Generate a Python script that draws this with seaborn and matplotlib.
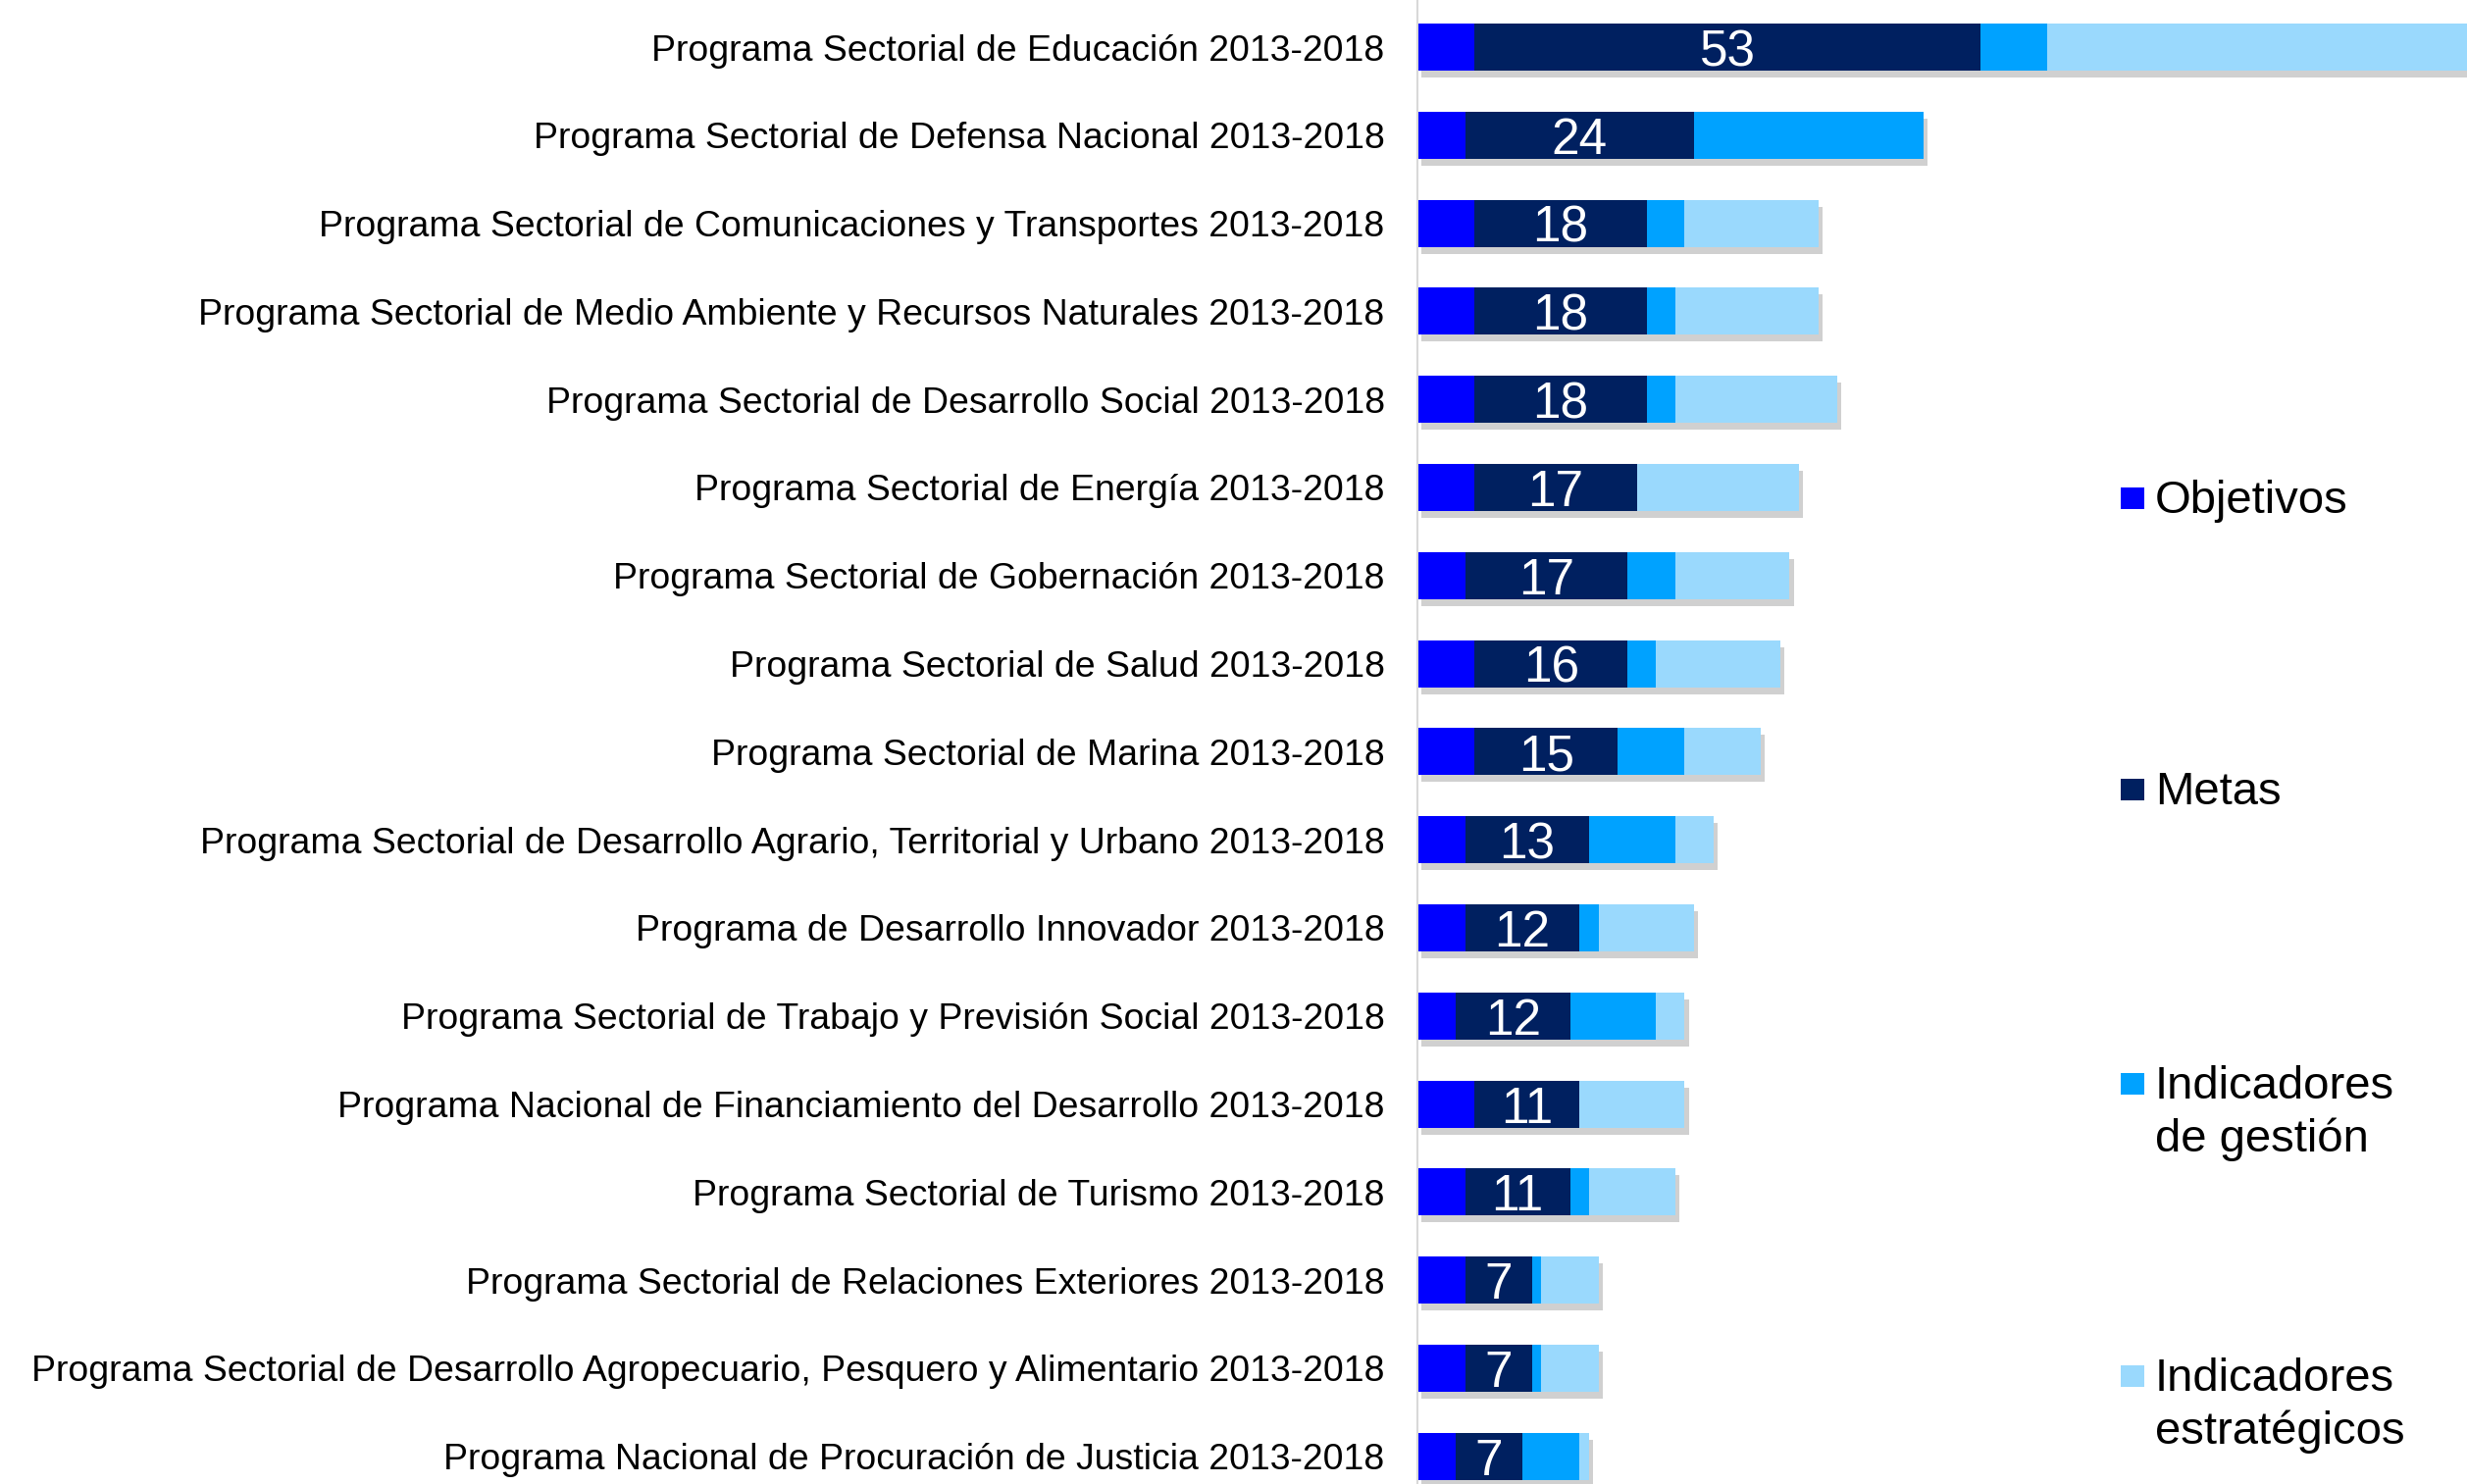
import numpy as np
import pandas as pd
import matplotlib
matplotlib.use("Agg")
import matplotlib.pyplot as plt
import matplotlib.patheffects as pe
from matplotlib.patches import Rectangle
import seaborn as sns

programas = [
    "Programa Sectorial de Educación 2013-2018",
    "Programa Sectorial de Defensa Nacional 2013-2018",
    "Programa Sectorial de Comunicaciones y Transportes 2013-2018",
    "Programa Sectorial de Medio Ambiente y Recursos Naturales 2013-2018",
    "Programa Sectorial de Desarrollo Social 2013-2018",
    "Programa Sectorial de Energía 2013-2018",
    "Programa Sectorial de Gobernación 2013-2018",
    "Programa Sectorial de Salud 2013-2018",
    "Programa Sectorial de Marina 2013-2018",
    "Programa Sectorial de Desarrollo Agrario, Territorial y Urbano 2013-2018",
    "Programa de Desarrollo Innovador 2013-2018",
    "Programa Sectorial de Trabajo y Previsión Social 2013-2018",
    "Programa Nacional de Financiamiento del Desarrollo 2013-2018",
    "Programa Sectorial de Turismo 2013-2018",
    "Programa Sectorial de Relaciones Exteriores 2013-2018",
    "Programa Sectorial de Desarrollo Agropecuario, Pesquero y Alimentario 2013-2018",
    "Programa Nacional de Procuración de Justicia 2013-2018",
]
objetivos = [6, 5, 6, 6, 6, 6, 5, 6, 6, 5, 5, 4, 6, 5, 5, 5, 4]
metas = [53, 24, 18, 18, 18, 17, 17, 16, 15, 13, 12, 12, 11, 11, 7, 7, 7]
ind_gestion = [7, 24, 4, 3, 3, 0, 5, 3, 7, 9, 2, 9, 0, 2, 1, 1, 6]
ind_estrategicos = [48, 0, 14, 15, 17, 17, 12, 13, 8, 4, 10, 3, 11, 9, 6, 6, 1]

series_names = ["Objetivos", "Metas", "Indicadores\nde gestión", "Indicadores\nestratégicos"]
colors = ["#0000FF", "#002060", "#00A2FF", "#9AD9FD"]

df = pd.DataFrame({
    "programa": programas,
    "obj": objetivos,
    "metas": metas,
    "gest": ind_gestion,
    "estr": ind_estrategicos,
})
df["c1"] = df["obj"]
df["c2"] = df["c1"] + df["metas"]
df["c3"] = df["c2"] + df["gest"]
df["c4"] = df["c3"] + df["estr"]

sns.set_theme(style="white")
plt.rcParams["font.family"] = ["Liberation Sans", "DejaVu Sans"]

W, H = 2515, 1513
fig = plt.figure(figsize=(W / 100, H / 100), dpi=100)
x0 = 1445 / W
ax = fig.add_axes([x0, 0, 1 - x0, 1])

bar_w = 0.535
# cumulative layers, drawn from total down to first segment
for col, colr in zip(["c4", "c3", "c2", "c1"], colors[::-1]):
    sns.barplot(data=df, y="programa", x=col, order=programas, orient="h",
                color=colr, saturation=1, width=bar_w, ax=ax, linewidth=0,
                errorbar=None)

# soft shadow for the full bars (first container)
for patch in ax.containers[0]:
    patch.set_path_effects([pe.SimplePatchShadow(offset=(3, -5), shadow_rgbFace="#8a8a8a", alpha=0.4),
                            pe.Normal()])

for i, row in df.iterrows():
    ax.text(row["obj"] + row["metas"] / 2, i, str(row["metas"]), color="white",
            ha="center", va="center_baseline", fontsize=37)

ax.set_xlim(0, (W - 1445) / 9.73)
ax.set_ylim((H - 48) / 89.8, -48 / 89.8)
ax.set_xlabel("")
ax.set_ylabel("")
ax.set_xticks([])
ax.tick_params(axis="y", length=0, pad=24, labelsize=26.9, labelcolor="black")
for s in ["top", "right", "bottom"]:
    ax.spines[s].set_visible(False)
ax.spines["left"].set_color("#D9D9D9")
ax.spines["left"].set_linewidth(1.5)

# legend (handles aligned with first line of each label)
leg_y = [508, 805, 1105, 1403]
for name, colr, yc in zip(series_names, colors, leg_y):
    fig.patches.append(Rectangle((2162 / W, 1 - (yc + 11) / H), 24 / W, 22 / H,
                                 transform=fig.transFigure, facecolor=colr, edgecolor="none"))
    fig.text(2197 / W, 1 - (yc - 19) / H, name, fontsize=34, ha="left", va="top",
             linespacing=1.27, color="black")

fig.savefig("out.png", dpi=100)
